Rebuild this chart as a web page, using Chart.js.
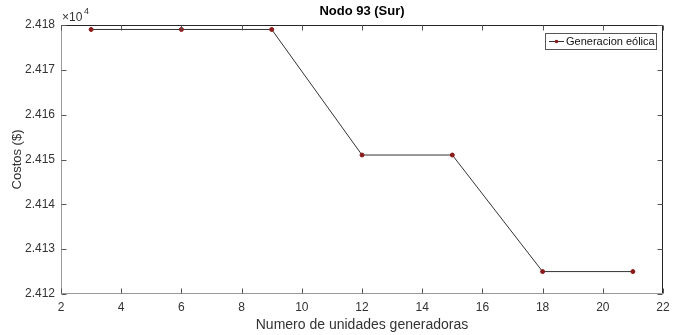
<!DOCTYPE html>
<html>
<head>
<meta charset="utf-8">
<script src="https://cdn.jsdelivr.net/npm/chart.js@4.4.1/dist/chart.umd.min.js"></script>
<style>
  html, body { margin: 0; padding: 0; background: #fff; }
  #wrap { width: 681px; height: 335px; }
</style>
</head>
<body>
<div id="wrap"><canvas id="grafico" width="681" height="335"></canvas></div>
<script>
const unidades = [3, 6, 9, 12, 15, 18, 21];
const costos = [24179, 24179, 24179, 24151, 24151, 24125, 24125];
const serieNombre = "Generacion eólica";
const titulo = "Nodo 93 (Sur)";
const ejeX = "Numero de unidades generadoras";
const ejeY = "Costos ($)";

const fuente = "'Liberation Sans', Arial, sans-serif";
const colorTexto = "#333333";

// ticks hacia adentro, caja, titulo, leyenda y exponente estilo MATLAB
const estiloMatlab = {
    id: "estiloMatlab",
    afterDraw(chart) {
        const { ctx, chartArea: a, scales } = chart;
        const largo = 5;
        const L = a.left + 0.5, R = a.right - 0.5, T = a.top + 0.5, B = a.bottom - 0.5;
        ctx.save();
        ctx.lineWidth = 1;
        // top y derecha oscuros
        ctx.strokeStyle = "#262626";
        ctx.beginPath();
        ctx.moveTo(L, T); ctx.lineTo(R, T); ctx.lineTo(R, B);
        ctx.stroke();
        // izquierda y abajo grises
        ctx.strokeStyle = "#9a9a9a";
        ctx.beginPath();
        ctx.moveTo(L, T); ctx.lineTo(L, B); ctx.lineTo(R, B);
        ctx.stroke();

        ctx.beginPath();
        scales.x.ticks.forEach(t => {
            const px = Math.round(scales.x.getPixelForValue(t.value)) + 0.5;
            ctx.moveTo(px, B); ctx.lineTo(px, B - largo);
            ctx.moveTo(px, T); ctx.lineTo(px, T + largo);
        });
        scales.y.ticks.forEach(t => {
            const py = Math.round(scales.y.getPixelForValue(t.value)) + 0.5;
            ctx.moveTo(L, py); ctx.lineTo(L + largo, py);
            ctx.moveTo(R, py); ctx.lineTo(R - largo, py);
        });
        ctx.strokeStyle = "#555";
        ctx.stroke();

        // titulo
        ctx.fillStyle = "#000";
        ctx.font = "bold 13px " + fuente;
        ctx.textAlign = "center";
        ctx.textBaseline = "middle";
        ctx.fillText(titulo, (a.left + a.right) / 2, 11);

        // exponente
        ctx.fillStyle = colorTexto;
        ctx.textAlign = "left";
        ctx.textBaseline = "alphabetic";
        ctx.font = "12px " + fuente;
        ctx.fillText("×10", a.left + 1, 21);
        ctx.font = "9px " + fuente;
        ctx.fillText("4", a.left + 23, 14);

        // leyenda
        const lx = 545, ly = 33, lw = 111, lh = 16;
        ctx.fillStyle = "#fff";
        ctx.fillRect(lx, ly, lw, lh);
        ctx.strokeStyle = "#555";
        ctx.strokeRect(lx + 0.5, ly + 0.5, lw, lh);
        ctx.strokeStyle = "#333";
        ctx.beginPath();
        ctx.moveTo(lx + 4, ly + lh / 2 + 0.5);
        ctx.lineTo(lx + 19, ly + lh / 2 + 0.5);
        ctx.stroke();
        ctx.fillStyle = "#8b1a1a";
        ctx.beginPath();
        ctx.arc(lx + 11.5, ly + lh / 2 + 0.5, 1.8, 0, Math.PI * 2);
        ctx.fill();
        ctx.fillStyle = "#111";
        ctx.font = "11px " + fuente;
        ctx.textBaseline = "middle";
        ctx.fillText(serieNombre, lx + 21, ly + lh / 2 + 1);
        ctx.restore();
    }
};

const ctx = document.getElementById("grafico").getContext("2d");
new Chart(ctx, {
    type: "line",
    data: {
        datasets: [{
            label: serieNombre,
            data: unidades.map((u, i) => ({ x: u, y: costos[i] })),
            borderColor: "#333333",
            borderWidth: 1,
            pointBackgroundColor: "#8b1a1a",
            pointBorderColor: "#8b1a1a",
            pointRadius: 2,
            tension: 0
        }]
    },
    options: {
        responsive: false,
        animation: false,
        layout: { padding: { top: 25, right: 18, left: 0, bottom: 0 } },
        plugins: { legend: { display: false }, tooltip: { enabled: false }, title: { display: false } },
        scales: {
            x: {
                type: "linear",
                min: 2, max: 22,
                border: { display: false },
                grid: { drawOnChartArea: false, drawTicks: false },
                ticks: { stepSize: 2, color: colorTexto, font: { family: fuente, size: 12 }, padding: 6, maxRotation: 0 },
                title: { display: true, text: ejeX, color: colorTexto, font: { family: fuente, size: 14 }, padding: { top: 0, bottom: 1 } },
                afterFit(scale) { scale.height = 41; }
            },
            y: {
                min: 24120, max: 24180,
                border: { display: false },
                grid: { drawOnChartArea: false, drawTicks: false },
                ticks: {
                    stepSize: 10, color: colorTexto, font: { family: fuente, size: 12 }, padding: 6,
                    callback: v => (v / 1e4).toFixed(3)
                },
                title: { display: true, text: ejeY, color: colorTexto, font: { family: fuente, size: 13 }, padding: { top: 10, bottom: 0 } },
                afterFit(scale) { scale.width = 61; }
            }
        }
    },
    plugins: [estiloMatlab]
});
</script>
</body>
</html>
